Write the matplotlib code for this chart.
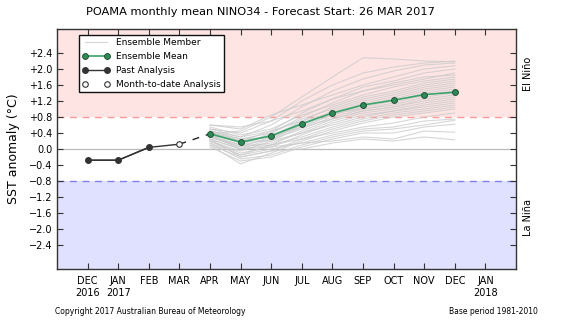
import numpy as np
import matplotlib
matplotlib.use("Agg")
import matplotlib.pyplot as plt

# month index: 0 = DEC 2016 ... 13 = JAN 2018
month_labels = ["DEC\n2016", "JAN\n2017", "FEB", "MAR", "APR", "MAY", "JUN",
                "JUL", "AUG", "SEP", "OCT", "NOV", "DEC", "JAN\n2018"]

# observed NINO34 anomalies
past_months = [0, 1, 2]
past_values = [-0.28, -0.28, 0.04]
mtd_month = 3
mtd_value = 0.12

# forecast months APR..DEC
fc_months = [4, 5, 6, 7, 8, 9, 10, 11, 12]
ens_mean = [0.38, 0.17, 0.33, 0.63, 0.90, 1.10, 1.22, 1.36, 1.42]

ens_members = [
    [0.38, 0.45, 0.80, 1.30, 1.80, 2.28, 2.25, 2.20, 2.18],
    [0.50, 0.40, 0.70, 1.20, 1.60, 1.90, 2.05, 2.15, 2.20],
    [0.45, 0.30, 0.60, 1.05, 1.45, 1.75, 1.95, 2.10, 2.15],
    [0.60, 0.50, 0.85, 1.10, 1.35, 1.60, 1.80, 2.00, 2.08],
    [0.40, 0.20, 0.45, 0.90, 1.25, 1.55, 1.70, 1.90, 2.00],
    [0.35, 0.10, 0.40, 0.80, 1.15, 1.45, 1.65, 1.80, 1.85],
    [0.55, 0.35, 0.50, 0.85, 1.10, 1.35, 1.55, 1.70, 1.80],
    [0.30, 0.05, 0.30, 0.70, 1.05, 1.30, 1.45, 1.65, 1.75],
    [0.45, 0.25, 0.40, 0.75, 1.00, 1.25, 1.40, 1.60, 1.70],
    [0.25, 0.00, 0.25, 0.60, 0.95, 1.20, 1.35, 1.55, 1.65],
    [0.40, 0.15, 0.35, 0.65, 0.90, 1.15, 1.30, 1.50, 1.60],
    [0.20, -0.05, 0.20, 0.55, 0.85, 1.10, 1.25, 1.45, 1.55],
    [0.35, 0.20, 0.30, 0.60, 0.85, 1.05, 1.20, 1.40, 1.50],
    [0.50, 0.30, 0.45, 0.70, 0.90, 1.00, 1.15, 1.35, 1.45],
    [0.30, 0.10, 0.25, 0.50, 0.80, 1.00, 1.10, 1.30, 1.40],
    [0.15, -0.15, 0.10, 0.45, 0.75, 0.95, 1.05, 1.25, 1.35],
    [0.40, 0.25, 0.30, 0.55, 0.75, 0.95, 1.05, 1.20, 1.30],
    [0.30, 0.05, 0.15, 0.40, 0.70, 0.90, 1.00, 1.15, 1.25],
    [0.20, -0.10, 0.05, 0.35, 0.65, 0.85, 0.95, 1.10, 1.20],
    [0.45, 0.20, 0.20, 0.40, 0.60, 0.80, 0.95, 1.05, 1.15],
    [0.35, 0.00, 0.10, 0.30, 0.55, 0.75, 0.90, 1.00, 1.10],
    [0.25, -0.20, -0.05, 0.25, 0.50, 0.70, 0.85, 0.95, 1.05],
    [0.10, -0.37, -0.10, 0.20, 0.45, 0.65, 0.80, 0.90, 1.00],
    [0.30, 0.10, 0.10, 0.25, 0.40, 0.55, 0.65, 0.80, 0.90],
    [0.20, -0.15, 0.00, 0.15, 0.35, 0.50, 0.55, 0.70, 0.75],
    [0.15, -0.25, -0.15, 0.10, 0.30, 0.45, 0.50, 0.60, 0.72],
    [0.05, -0.30, -0.20, 0.05, 0.25, 0.40, 0.40, 0.55, 0.62],
    [0.25, 0.00, 0.05, 0.15, 0.20, 0.30, 0.25, 0.45, 0.42],
    [0.10, -0.20, -0.05, 0.00, 0.15, 0.25, 0.20, 0.30, 0.23],
    [0.60, 0.55, 0.70, 0.95, 1.25, 1.45, 1.60, 1.75, 1.90],
]

yticks = [-2.4, -2.0, -1.6, -1.2, -0.8, -0.4, 0.0, 0.4, 0.8, 1.2, 1.6, 2.0, 2.4]
threshold = 0.8


def fmt_tick(v):
    if abs(v) < 1e-9:
        return "0.0"
    if v > 0:
        return "+%.1f" % v
    return "\u2212%.1f" % abs(v)


fig = plt.figure(figsize=(5.61, 3.21), dpi=100)
ax = fig.add_axes([57 / 561, 1 - 269 / 321, (516 - 57) / 561, (269 - 29) / 321])

xmin, xmax = -1, 14
ymin, ymax = -3.0, 3.0
ax.set_xlim(xmin, xmax)
ax.set_ylim(ymin, ymax)

# El Nino / La Nina shading
ax.axhspan(threshold, ymax, color="#ffe4e4", lw=0, zorder=0)
ax.axhspan(ymin, -threshold, color="#e0e0ff", lw=0, zorder=0)
ax.axhline(threshold, color="#ff9999", ls=(0, (5, 4)), lw=1.0, zorder=1)
ax.axhline(-threshold, color="#8080ee", ls=(0, (5, 4)), lw=1.0, zorder=1)
ax.axhline(0, color="#bbbbbb", lw=0.9, zorder=1)

# ensemble members
for i, m in enumerate(ens_members):
    ax.plot(fc_months, m, color="#cccccc", lw=0.8, alpha=0.8, zorder=2,
            label="Ensemble Member" if i == 0 else None)

# past analysis
ax.plot(past_months + [mtd_month], past_values + [mtd_value], color="#333333",
        lw=1.0, zorder=3)
ax.plot(past_months, past_values, color="#333333", lw=1.0, marker="o",
        ms=4, mfc="#333333", mec="#333333", zorder=4, label="Past Analysis")
ax.plot([mtd_month, fc_months[0]], [mtd_value, ens_mean[0]], color="#222222",
        lw=1.0, ls=(0, (5, 5)), zorder=3)
ax.plot([mtd_month], [mtd_value], ls="none", marker="o", ms=4, mfc="white",
        mec="#333333", mew=0.8, zorder=5, label="Month-to-date Analysis")

# ensemble mean
ax.plot(fc_months, ens_mean, color="#3aa36b", lw=1.2, marker="o", ms=4.2,
        mfc="#2e8b57", mec="#1f4f33", mew=0.7, zorder=6, label="Ensemble Mean")

ax.set_xticks(range(len(month_labels)))
ax.set_xticklabels(month_labels, fontsize=7)
ax.set_yticks(yticks)
ax.set_yticklabels([fmt_tick(v) for v in yticks], fontsize=7)
ax.tick_params(direction="in", length=4, width=0.8, top=True, right=True,
               color="#333333")
ax.tick_params(axis="x", pad=5)
for s in ax.spines.values():
    s.set_color("#333333")
    s.set_linewidth(1.0)

ax.set_ylabel("SST anomaly (\u00b0C)", fontsize=9, labelpad=6)

handles, labels = ax.get_legend_handles_labels()
order = ["Ensemble Member", "Ensemble Mean", "Past Analysis", "Month-to-date Analysis"]
hmap = dict(zip(labels, handles))
leg = ax.legend([hmap[k] for k in order], order, loc="upper left",
                bbox_to_anchor=(0.048, 0.975), fontsize=6.5, numpoints=2,
                fancybox=False, framealpha=1, edgecolor="#111111",
                borderpad=0.35, labelspacing=0.55, handlelength=3.0,
                handletextpad=0.8, borderaxespad=0)
leg.get_frame().set_linewidth(1.0)

# regime labels on the right
fig.text(528 / 561, 1 - 74 / 321, "El Ni\u00f1o", rotation=90, fontsize=7,
         ha="center", va="center")
fig.text(528 / 561, 1 - 218 / 321, "La Ni\u00f1a", rotation=90, fontsize=7,
         ha="center", va="center")

fig.text(260 / 561, 1 - 12 / 321,
         "POAMA monthly mean NINO34 - Forecast Start: 26 MAR 2017",
         fontsize=8.2, ha="center", va="center")
fig.text(55 / 561, 1 - 311 / 321, "Copyright 2017 Australian Bureau of Meteorology",
         fontsize=5.5, ha="left", va="center")
fig.text(538 / 561, 1 - 311 / 321, "Base period 1981-2010",
         fontsize=5.5, ha="right", va="center")

fig.savefig("out.png", dpi=100)
